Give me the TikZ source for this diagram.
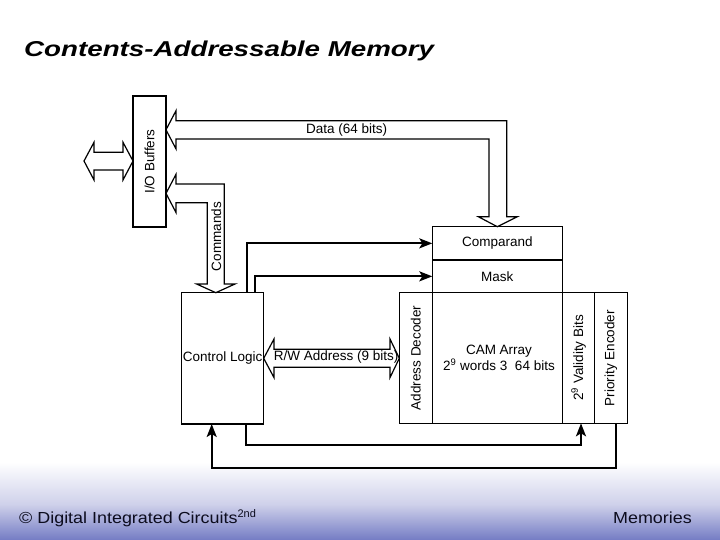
\documentclass[tikz,border=0pt]{standalone}
\usepackage{fontspec}
\setmainfont{Liberation Sans}
\usetikzlibrary{arrows.meta,calc}
\definecolor{footblue}{RGB}{116,124,196}
\definecolor{footmid}{RGB}{206,208,234}
\definecolor{foottext}{RGB}{12,12,30}
\tikzset{
  box/.style={draw, line width=1.2pt, inner sep=0pt, outer sep=0pt, fill=white,
    font=\fontsize{13.5}{15}\selectfont},
  lbl/.style={inner sep=0pt, font=\fontsize{13.5}{15}\selectfont},
  hollow/.style={draw, fill=white, line width=1.2pt, line join=miter},
  conn/.style={draw, line width=2pt, -{Stealth[length=13pt,width=10pt,inset=3pt]}},
  plain/.style={draw, line width=2pt}
}
\begin{document}
\begin{tikzpicture}[x=1pt,y=-1pt]
\useasboundingbox (0,0) rectangle (720,540);
\fill[white] (0,0) rectangle (720,540);
% footer gradient
\shade[top color=white, bottom color=footmid] (0,462) rectangle (720,505);
\shade[top color=footmid, bottom color=footblue] (0,504.5) rectangle (720,540);

% title
\node[anchor=base west, inner sep=0pt, font=\fontsize{21.5}{25}\selectfont\bfseries\itshape] (title) at (24,57) {\scalebox{1.29}[1]{Contents-Addressable Memory}};

% boxes
\node[box, minimum width=33, minimum height=131] (io) at (149.5,161.5) {\rotatebox{90}{I/O Buffers}};
\node[box, minimum width=130, minimum height=33.3] (comp) at (497.3,243.35) {Comparand};
\node[box, minimum width=130, minimum height=32.7] (mask) at (497.3,276.35) {Mask};
\node[box, minimum width=82, minimum height=131.3] (ctrl) at (222.7,358.35) {};
\node[lbl] (ctrltxt) at (222.7,358.3) {Control Logic};
\node[box, minimum width=33, minimum height=130.6] (dec) at (415.8,358) {\rotatebox{90}{Address Decoder}};
\node[box, minimum width=130, minimum height=130.6] (cam) at (497.3,358) {};
\node[lbl, align=center] (camtxt) at (499,358) {CAM Array\\[1pt]2\textsuperscript{9} words 3\ \ 64 bits};
\node[box, minimum width=32.4, minimum height=130.6] (valid) at (578.5,358) {\rotatebox{90}{2\textsuperscript{9} Validity Bits}};
\node[box, minimum width=32.6, minimum height=130.6] (prio) at (611,358) {\rotatebox{90}{Priority Encoder}};

% external double arrow
\coordinate (ext) at (84,161);
\path[hollow] (ext) -- ++(10,-18.7) -- ++(0,10) -- (123,152.3) -- (123,142.3)
  -- (io.west |- ext) -- (123,180) -- (123,170) -- (94,170) -- (94,180) -- cycle;

% Data arrow
\path[hollow] (io.east |- 0,129.8) -- (176,110.7) -- (176,120.7) -- (506.7,120.7) -- (506.7,216.7)
  -- (517.3,216.7) -- (comp.north) -- (478.3,216.7) -- (489,216.7) -- (489,139)
  -- (176,139) -- (176,148.9) -- cycle;
\node[lbl] (datalbl) at (346.7,129.6) {Data (64 bits)};

% Commands arrow
\path[hollow] (io.east |- 0,193.4) -- (176,174.3) -- (176,184) -- (224.3,184) -- (224.3,284)
  -- (235,284) -- (ctrl.north -| 215.8,0) -- (196.6,284) -- (207.3,284) -- (207.3,202.7)
  -- (176,202.7) -- (176,212.5) -- cycle;
\node[lbl, rotate=90] (cmdlbl) at (216.3,236.7) {Commands};

% R/W address double arrow
\path[hollow] (ctrl.east |- 0,358.3) -- (274,339) -- (274,349.3) -- (390,349.3) -- (390,339)
  -- (dec.west |- 0,358.3) -- (390,377.6) -- (390,367.3) -- (274,367.3) -- (274,377.6) -- cycle;
\node[lbl, anchor=east] (rwlbl) at (398.5,357.5) {R/W Address (9 bits)};

% control connectors
\draw[conn] (ctrl.north -| 247,0) |- (comp.west);
\draw[conn] (ctrl.north -| 255.3,0) |- (mask.west);
\draw[conn] (ctrl.south -| 246,0) |- (581,445) -- (valid.south -| 581,0);
\draw[conn] (prio.south -| 615.7,0) |- (211.7,467.7) -- (ctrl.south -| 211.7,0);

% footer
\node[anchor=base west, inner sep=0pt, text=foottext, font=\fontsize{16}{18}\selectfont] (foot) at (19,523.5) {\scalebox{1.12}[1]{\textcopyright\ Digital Integrated Circuits}\raisebox{6.5pt}{\fontsize{11}{12}\selectfont 2nd}};
\node[anchor=base east, inner sep=0pt, text=foottext, font=\fontsize{16}{18}\selectfont] (mem) at (692,523.5) {\scalebox{1.12}[1]{Memories}};
\end{tikzpicture}
\end{document}
